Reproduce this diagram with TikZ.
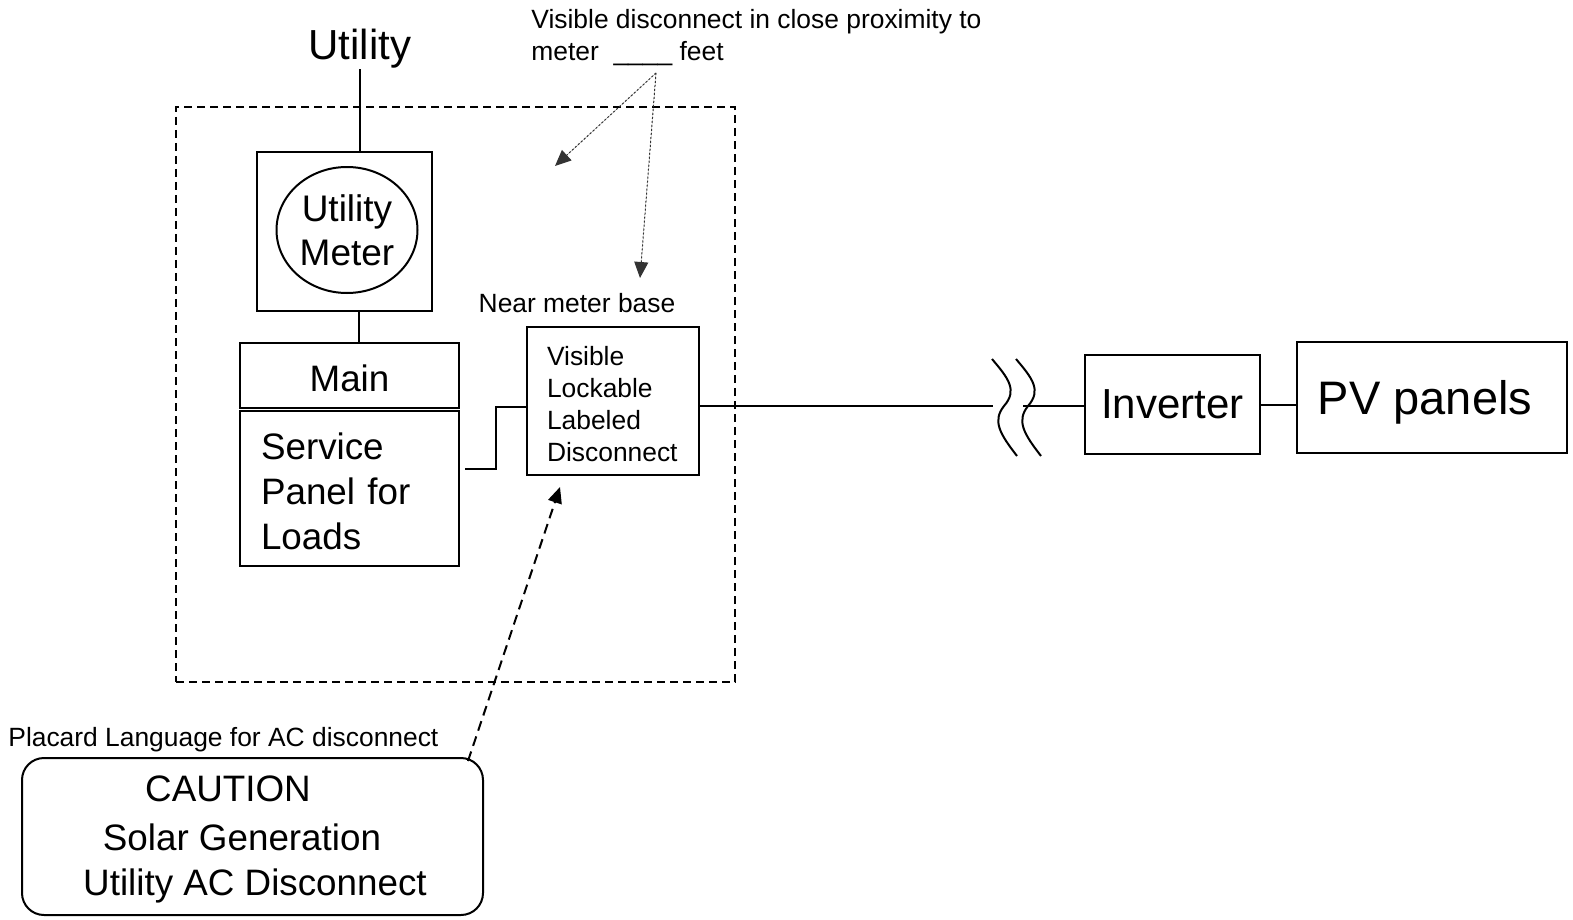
\documentclass[tikz,border=0pt]{standalone}
\usepackage{fontspec}
\setmainfont{Liberation Sans}
\usetikzlibrary{arrows.meta,positioning,shapes.geometric,calc}
\newcommand\notesize{\fontsize{13.2}{16}\selectfont}
\newcommand\boxsize{\fontsize{18.4}{22.5}\selectfont}
\newcommand\labelsize{\fontsize{21}{25}\selectfont}
\newcommand\pvsize{\fontsize{23.5}{28}\selectfont}
\tikzset{
  plainbox/.style={draw=black,line width=1pt,inner sep=0pt,align=center},
  textbox/.style={draw=black,line width=1pt,align=left,inner ysep=0pt},
  framebox/.style={draw=black,line width=1pt,dash pattern=on 4pt off 2.5pt,inner sep=0pt},
  wire/.style={line width=1pt},
  note/.style={font=\notesize,inner sep=0pt},
  dotarr/.style={-{Triangle[length=8pt,width=7pt]},line width=0.5pt,
                 dash pattern=on 1pt off 1pt,draw=black!80,fill=black},
  dasharr/.style={-{Triangle[length=8pt,width=7pt]},line width=1pt,
                  dash pattern=on 5pt off 3pt}
}
\begin{document}
\begin{tikzpicture}[x=0.5pt,y=-0.5pt]
  \useasboundingbox (0,0) rectangle (1573,920);
  % enclosure near the meter
  \node[framebox,minimum width=279.5pt,minimum height=287.5pt] (frame) at (455.5,394.5) {};

  % utility, meter and service panel
  \node[font=\labelsize,inner sep=0pt,anchor=base] (utility) at (360,60) {Utility};
  \node[plainbox,minimum width=87.5pt,minimum height=79.5pt] (meterbox) at (344.5,231.5) {};
  \node[ellipse,draw,line width=1pt,minimum width=70.5pt,minimum height=63pt,inner sep=0pt,
        align=center,font=\fontsize{18.5}{22}\selectfont] (meter) at (347,230) {Utility\\Meter};
  \node[plainbox,minimum width=109.5pt,minimum height=32.5pt,font=\boxsize] (mainbox)
    at (349.5,375.5) {\rule{0pt}{16.2pt}Main};
  \node[textbox,inner xsep=10.5pt,text width=88.5pt,minimum height=77.5pt,font=\boxsize] (panel)
    at (349.5,488.5) {\rule{0pt}{16.4pt}Service\\Panel for\\Loads};

  \draw[wire] (utility.south) -- (utility.south |- meterbox.north);
  \draw[wire] ([xshift=4.5pt]mainbox.north) -- ([xshift=4.5pt]mainbox.north |- meterbox.south);

  % disconnect
  \node[note,anchor=base] (nearbase) at (577,312) {Near meter base};
  \node[textbox,inner xsep=10pt,text width=66pt,minimum height=74pt,font=\notesize] (disc)
    at (613,401) {\rule{0pt}{12.5pt}Visible\\Lockable\\Labeled\\Disconnect};
  \draw[wire] ([xshift=2.5pt,yshift=9.75pt]panel.east) -- ++(15.5pt,0) |- ([yshift=-3pt]disc.west);

  % line to inverter with break
  \coordinate (brkL) at (993,406);
  \coordinate (brkR) at (1023,406);
  \node[plainbox,minimum width=87.5pt,minimum height=49.5pt,font=\labelsize] (inverter)
    at (1172.5,404.5) {Inverter};
  \node[plainbox,minimum width=135pt,minimum height=55.5pt,font=\pvsize,text depth=0pt] (pv)
    at (1432,397.5) {PV panels\hspace{7pt}};
  \draw[wire] (disc.east |- brkL) -- (brkL);
  \foreach \dx in {0,24} {
    \draw[wire,shift={(\dx,0)}] (992,359) .. controls (1008,378) and (1018,390) .. (1004,406)
      .. controls (992,421) and (1000,434) .. (1017,456);
  }
  \draw[wire] (brkR) -- (brkR -| inverter.west);
  \draw[wire] (inverter.east) -- (inverter.east -| pv.west);

  % proximity note
  \node[note,align=left,anchor=north west] (topnote) at (531,9)
    {Visible disconnect in close proximity to\\meter\ \ \_\_\_\_ feet};
  \coordinate (notetip) at (656,73);
  \coordinate (areatip) at (555,166);
  \coordinate (disctip) at (640,278);
  \draw[dotarr] (notetip) -- (areatip);
  \draw[dotarr] (notetip) -- (disctip);

  % placard
  \node[note,anchor=base west] (placardlbl) at (8,746.5) {Placard Language for AC disconnect};
  \node[draw,line width=1pt,rounded corners=11pt,minimum width=230.5pt,minimum height=78.5pt] (placard)
    at (252.5,836.5) {};
  \node[font=\boxsize,inner sep=0pt,anchor=base] (caution) at (228,801) {CAUTION};
  \node[font=\boxsize,inner sep=0pt,anchor=base] (solargen) at (242,850) {Solar Generation};
  \node[font=\boxsize,inner sep=0pt,anchor=base] (acdisc) at (255,895) {Utility AC Disconnect};
  \coordinate (placardtip) at (468,761);
  \coordinate (disclow) at (560,487);
  \draw[dasharr] (placardtip) -- (disclow);
\end{tikzpicture}
\end{document}
